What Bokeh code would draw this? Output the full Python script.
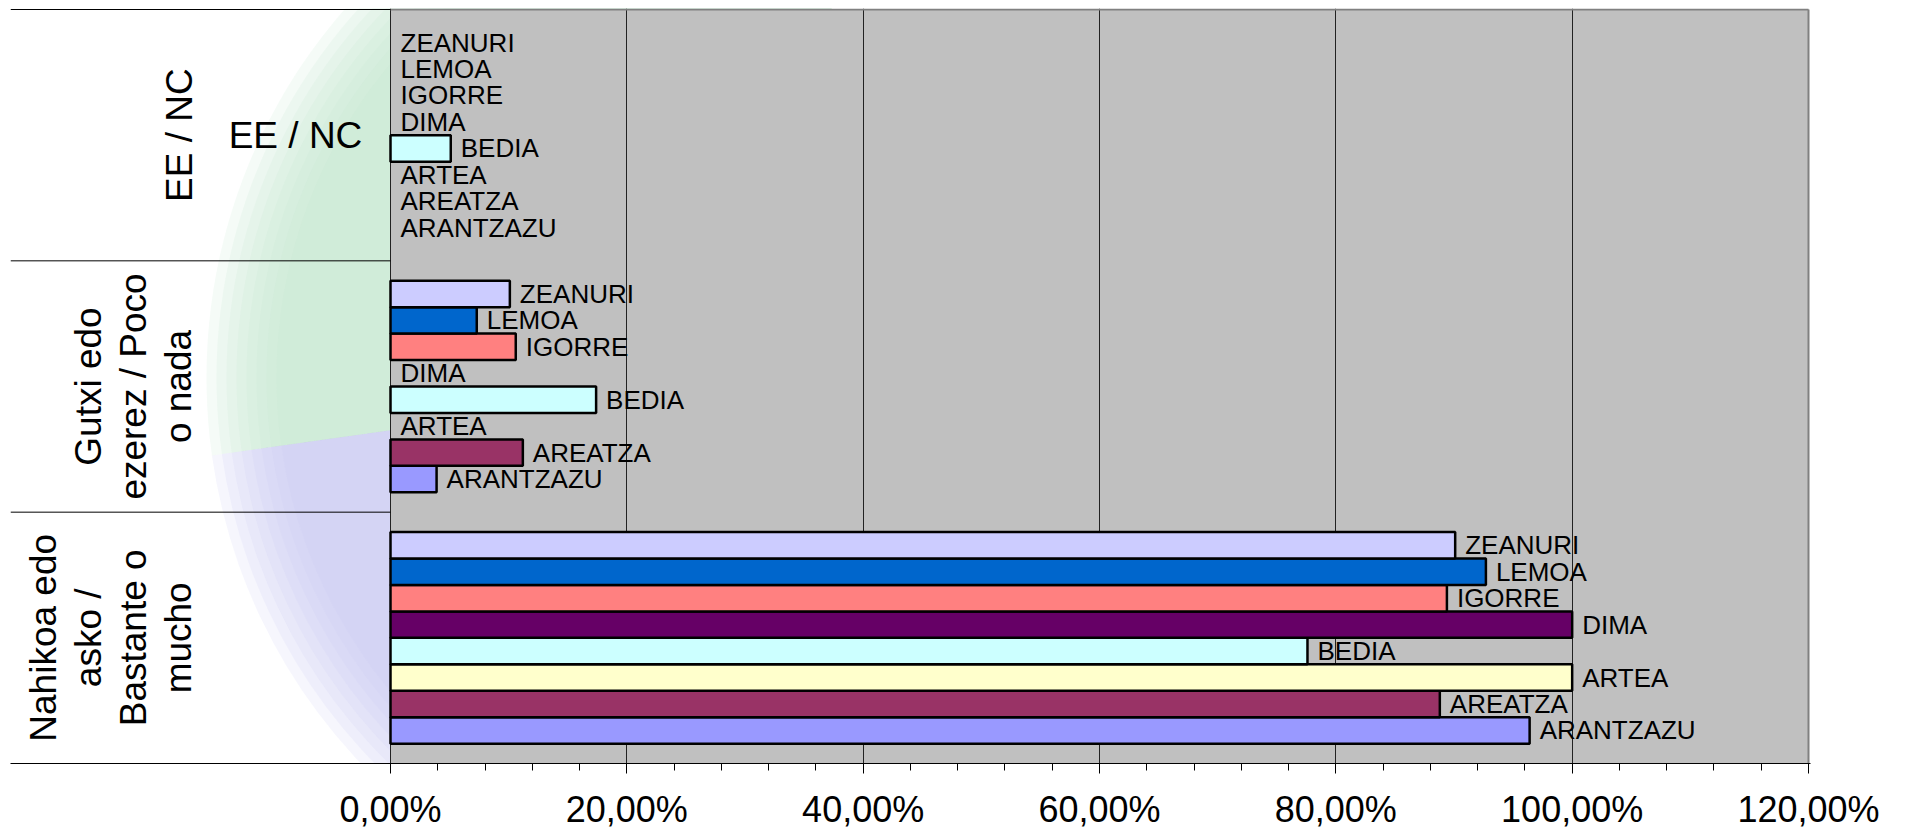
from bokeh.plotting import figure
from bokeh.models import (ColumnDataSource, Range1d, FixedTicker, CustomJSTickFormatter, Label)
from bokeh.core.properties import value
from bokeh.embed import file_html
from bokeh.resources import INLINE

# ---------------- data ----------------
# series, bottom to top inside each category
series = ["ARANTZAZU", "AREATZA", "ARTEA", "BEDIA", "DIMA", "IGORRE", "LEMOA", "ZEANURI"]
colors = ["#9999FF", "#993366", "#FFFFCC", "#CCFFFF", "#660066", "#FF8080", "#0066CC", "#CCCCFF"]
# categories, bottom to top
categories = ["Nahikoa edo asko / Bastante o mucho", "Gutxi edo ezerez / Poco o nada", "EE / NC"]
category_lines = ["Nahikoa edo\nasko /\nBastante o\nmucho", "Gutxi edo\nezerez / Poco\no nada", "EE / NC"]
nahikoa = [0.964, 0.888, 1.000, 0.776, 1.000, 0.894, 0.927, 0.901]
gutxi = [0.039, 0.112, 0.000, 0.174, 0.000, 0.106, 0.073, 0.101]
ee_nc = [0.000, 0.000, 0.000, 0.051, 0.000, 0.000, 0.000, 0.000]
values = [nahikoa, gutxi, ee_nc]
x_ticks = [0, 0.2, 0.4, 0.6, 0.8, 1.0, 1.2]
minor_ticks = [i * 0.04 for i in range(31)]

FONT = "Liberation Sans"

# ---------------- layout helpers ----------------
PX_PER_UNIT = 1418 / 1.2      # pixels per 100 %
PLOT_LEFT_PX = 390            # page x of 0 %
FRAME_LEFT_PX = 10
FRAME_W, FRAME_H = 1800, 755
x_start = (FRAME_LEFT_PX - PLOT_LEFT_PX) / PX_PER_UNIT
x_end = x_start + FRAME_W / PX_PER_UNIT
y_end = 3.004
PX_PER_Y = FRAME_H / y_end


def px_to_x(px):
    return (px - PLOT_LEFT_PX) / PX_PER_UNIT


def py_to_y(py):
    return y_end - (py - 8) / PX_PER_Y


p = figure(frame_width=FRAME_W, frame_height=FRAME_H,
           x_range=Range1d(x_start, x_end), y_range=Range1d(0, y_end),
           y_axis_type=None, output_backend="svg", toolbar_location=None,
           min_border_left=10, min_border_right=70, min_border_top=8, min_border_bottom=68)
p.outline_line_color = None
p.background_fill_color = "white"
p.border_fill_color = "white"

# decorative faded disc behind the left area
cx, cy = px_to_x(766), py_to_y(377)
radii = [560, 550, 540, 530, 520, 510, 500, 490]
for r in radii:
    p.wedge(x=[cx], y=[cy], radius=r, radius_units="screen", start_angle=80, end_angle=188,
            start_angle_units="deg", end_angle_units="deg",
            fill_color="#c6e5d2", fill_alpha=0.17, line_color=None, level="image")
    p.wedge(x=[cx], y=[cy], radius=r, radius_units="screen", start_angle=188, end_angle=280,
            start_angle_units="deg", end_angle_units="deg",
            fill_color="#c8c8f4", fill_alpha=0.17, line_color=None, level="image")

# plot area background
p.quad(left=[0], right=[1.2], bottom=[0], top=[3], fill_color="#C0C0C0",
       line_color=None, level="image")

# grid
p.xgrid.ticker = FixedTicker(ticks=[0, 0.2, 0.4, 0.6, 0.8, 1.0])
p.xgrid.grid_line_color = "#222222"
p.xgrid.grid_line_width = 1

# plot area border (top / right)
p.segment(x0=[0, 1.2], y0=[3, 0], x1=[1.2, 1.2], y1=[3, 3], line_color="#808080", line_width=2)
# category separators on the left
p.segment(x0=[x_start] * 3, y0=[1, 2, 3], x1=[0] * 3, y1=[1, 2, 3], line_color="black", line_width=1)

# bars
w = 1 / 9.5
bar_y, bar_r, bar_c = [], [], []
lab_x, lab_y, lab_t = [], [], []
for ci, vals in enumerate(values):
    for j, v in enumerate(vals):
        yc = ci + 0.5 + (j - 3.5) * w
        if v > 0:
            bar_y.append(yc)
            bar_r.append(v)
            bar_c.append(colors[j])
        lab_x.append(v)
        lab_y.append(yc)
        lab_t.append(series[j])

bars = ColumnDataSource(dict(y=bar_y, right=bar_r, color=bar_c))
p.hbar(y="y", left=0, right="right", height=w, fill_color="color", line_color="black",
       line_width=2.5, source=bars)

labels = ColumnDataSource(dict(x=lab_x, y=lab_y, text=lab_t))
p.text(x="x", y="y", text="text", source=labels, x_offset=10, text_align="left",
       text_baseline="middle", text_font=value(FONT), text_font_size=value("26px"),
       text_color="black")

# category labels (rotated, multi-line)
for ci, txt in enumerate(category_lines):
    p.add_layout(Label(x=px_to_x(199), y=ci + 0.5, text=txt, angle=1.5707963,
                       text_align="center", text_baseline="bottom",
                       text_font=FONT, text_font_size="37px", text_color="black",
                       text_line_height=1.1))
p.add_layout(Label(x=px_to_x(295), y=2.5, text=categories[2], text_align="center",
                   text_baseline="middle", text_font=FONT, text_font_size="37px",
                   text_color="black"))

# x axis
ax = p.xaxis[0]
ax.ticker = FixedTicker(ticks=x_ticks, minor_ticks=minor_ticks)
ax.formatter = CustomJSTickFormatter(code="return (tick*100).toFixed(2).replace('.', ',') + '%';")
ax.axis_line_color = "black"
ax.axis_line_width = 1
ax.major_tick_in = 0
ax.major_tick_out = 10
ax.minor_tick_in = 0
ax.minor_tick_out = 7
ax.major_tick_line_color = "black"
ax.minor_tick_line_color = "black"
ax.major_label_text_font = FONT
ax.major_label_text_font_size = "36px"
ax.major_label_text_color = "black"
ax.major_label_standoff = 15

open("out.html", "w").write(file_html(p, INLINE))
